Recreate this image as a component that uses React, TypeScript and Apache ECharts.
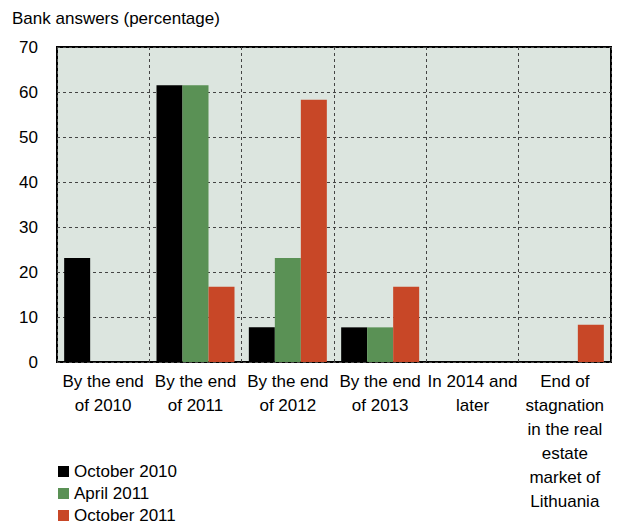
import React, { useEffect, useRef } from "react";
import * as echarts from "echarts";

const categories = [
  "By the end\nof 2010",
  "By the end\nof 2011",
  "By the end\nof 2012",
  "By the end\nof 2013",
  "In 2014 and\nlater",
  "End of\nstagnation\nin the real\nestate\nmarket of\nLithuania",
];
const seriesNames = ["October 2010", "April 2011", "October 2011"];
const october2010 = [23.1, 61.5, 7.7, 7.7, 0, 0];
const april2011 = [0, 61.5, 23.1, 7.7, 0, 0];
const october2011 = [0, 16.7, 58.3, 16.7, 0, 8.3];
const colors = ["#000000", "#5a9155", "#c84727"];

const FONT = "'Liberation Sans', Arial, sans-serif";

export default function App() {
  const ref = useRef<HTMLDivElement>(null);
  useEffect(() => {
    const chart = echarts.init(ref.current!, null, { renderer: "svg" });
    const values = [october2010, april2011, october2011];
    chart.setOption({
      animation: false,
      textStyle: { fontFamily: FONT },
      title: {
        text: "Bank answers (percentage)",
        left: 12,
        top: 10,
        padding: 0,
        textStyle: { fontSize: 17, fontWeight: "normal", color: "#000", fontFamily: FONT },
      },
      legend: seriesNames.map((name, i) => ({
        orient: "vertical",
        left: 58,
        top: 463 + i * 22,
        padding: 0,
        itemWidth: 11,
        itemHeight: 11,
        icon: "rect",
        data: [name],
        textStyle: { fontSize: 17, color: "#000", fontFamily: FONT, lineHeight: 17, padding: [0, 0, 0, 0] },
      })),
      grid: {
        left: 57,
        right: 10,
        top: 47,
        bottom: 169,
        show: true,
        backgroundColor: "#dce5df",
        borderColor: "#000",
        borderWidth: 2,
        containLabel: false,
      },
      xAxis: {
        type: "category",
        data: categories,
        axisLine: { show: false },
        axisTick: { show: false },
        splitLine: {
          show: true,
          interval: 0,
          lineStyle: { color: "#444", type: [3, 3], width: 1 },
        },
        axisLabel: {
          interval: 0,
          fontSize: 17,
          lineHeight: 24,
          color: "#000",
          margin: 7,
          fontFamily: FONT,
        },
      },
      yAxis: {
        type: "value",
        min: 0,
        max: 70,
        interval: 10,
        axisLine: { show: false },
        axisTick: { show: false },
        splitLine: {
          show: true,
          lineStyle: { color: "#444", type: [3, 3], width: 1 },
        },
        axisLabel: { fontSize: 17, color: "#000", margin: 19, fontFamily: FONT },
      },
      series: seriesNames.map((name, i) => ({
        name,
        type: "bar",
        data: values[i],
        barWidth: 26,
        barGap: "0%",
        itemStyle: { color: colors[i] },
      })),
    });
    return () => chart.dispose();
  }, []);
  return <div ref={ref} style={{ width: 621, height: 531, margin: -8 }} />;
}
